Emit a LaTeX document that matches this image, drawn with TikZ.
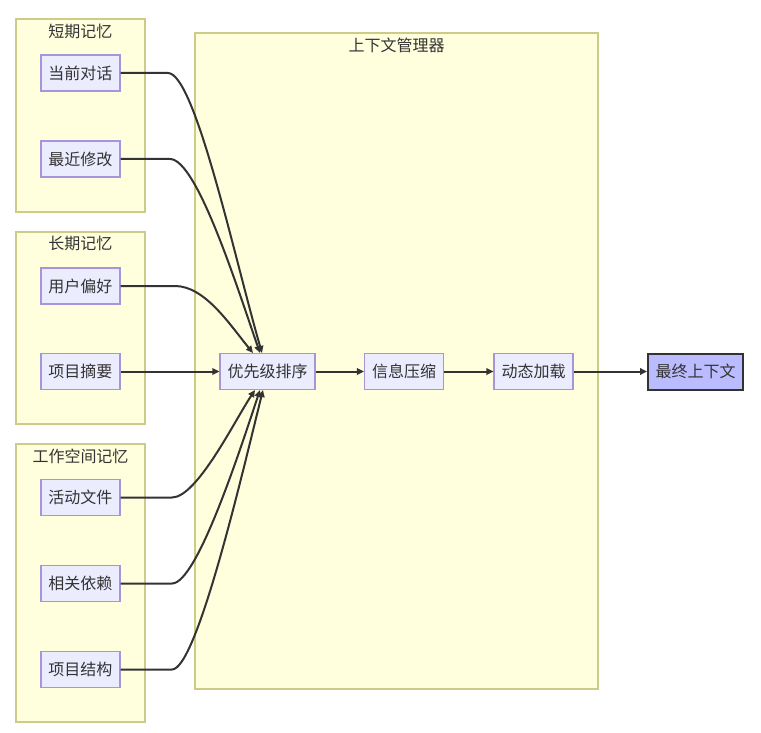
\documentclass[tikz,border=0pt]{standalone}
\usepackage{fontspec}
\newfontfamily\cjk{Noto Sans CJK SC}
\usetikzlibrary{arrows.meta}
\definecolor{nodefill}{HTML}{ECECFF}
\definecolor{nodeline}{HTML}{A595DA}
\definecolor{clfill}{HTML}{FFFFDE}
\definecolor{clline}{HTML}{CCCC88}
\definecolor{ink}{HTML}{333333}
\definecolor{finalfill}{HTML}{BBBBFF}
\tikzset{
  box/.style={draw=nodeline, fill=nodefill, line width=1.1pt, text=ink,
    font=\cjk\fontsize{16}{19}\selectfont, inner xsep=7.5pt, inner ysep=0pt,
    minimum height=36pt, anchor=center},
  finalbox/.style={box, draw=ink, fill=finalfill, line width=2pt},
  cluster/.style={draw=clline, fill=clfill, line width=1.3pt},
  cltitle/.style={text=ink, font=\cjk\fontsize{16}{19}\selectfont, inner sep=0pt},
  edge/.style={draw=ink, line width=2pt, -{Triangle[length=7pt,width=6.5pt]}},
}
\begin{document}
\begin{tikzpicture}[x=1pt,y=-1pt]
\useasboundingbox (0,0) rectangle (761,733);
\fill[white] (0,0) rectangle (761,733);
% clusters
\draw[cluster] (16,19) rectangle (145,212);
\draw[cluster] (16,232) rectangle (145,424);
\draw[cluster] (16,444) rectangle (145,722);
\draw[cluster] (195,33) rectangle (598,689);
\node[cltitle] (tshort) at (80.5,31) {短期记忆};
\node[cltitle] (tlong) at (80.5,243) {长期记忆};
\node[cltitle] (twork) at (80.5,456) {工作空间记忆};
\node[cltitle] (tmgr) at (396.5,45) {上下文管理器};
% nodes
\node[box] (n1) at (80.5,73) {当前对话};
\node[box] (n2) at (80.5,159) {最近修改};
\node[box] (n3) at (80.5,286) {用户偏好};
\node[box] (n4) at (80.5,371.5) {项目摘要};
\node[box] (n5) at (80.5,497.5) {活动文件};
\node[box] (n6) at (80.5,583.5) {相关依赖};
\node[box] (n7) at (80.5,669.5) {项目结构};
\node[box] (sort) at (267.5,371.5) {优先级排序};
\node[box] (comp) at (404,371.5) {信息压缩};
\node[box] (load) at (533.5,371.5) {动态加载};
\node[finalbox] (final) at (695.5,371.5) {最终上下文};
% edges
\draw[edge] (n1.east) -- (168,73) .. controls (195,73) and (235,260) .. ([xshift=-5.5pt]sort.north);
\draw[edge] (n2.east) -- (170,159) .. controls (197,159) and (238,290) .. ([xshift=-7.5pt]sort.north);
\draw[edge] (n3.east) -- (175,286) .. controls (205,286) and (230,325) .. ([xshift=-14.5pt]sort.north);
\draw[edge] (n4.east) -- (sort.west);
\draw[edge] (n5.east) -- (172,497.5) .. controls (197,497.5) and (235,420) .. ([xshift=-12.5pt]sort.south);
\draw[edge] (n6.east) -- (172,583.5) .. controls (197,583.5) and (240,450) .. ([xshift=-7.5pt]sort.south);
\draw[edge] (n7.east) -- (172,669.5) .. controls (197,669.5) and (243,470) .. ([xshift=-4.5pt]sort.south);
\draw[edge] (sort.east) -- (comp.west);
\draw[edge] (comp.east) -- (load.west);
\draw[edge] (load.east) -- (final.west);
\end{tikzpicture}
\end{document}
